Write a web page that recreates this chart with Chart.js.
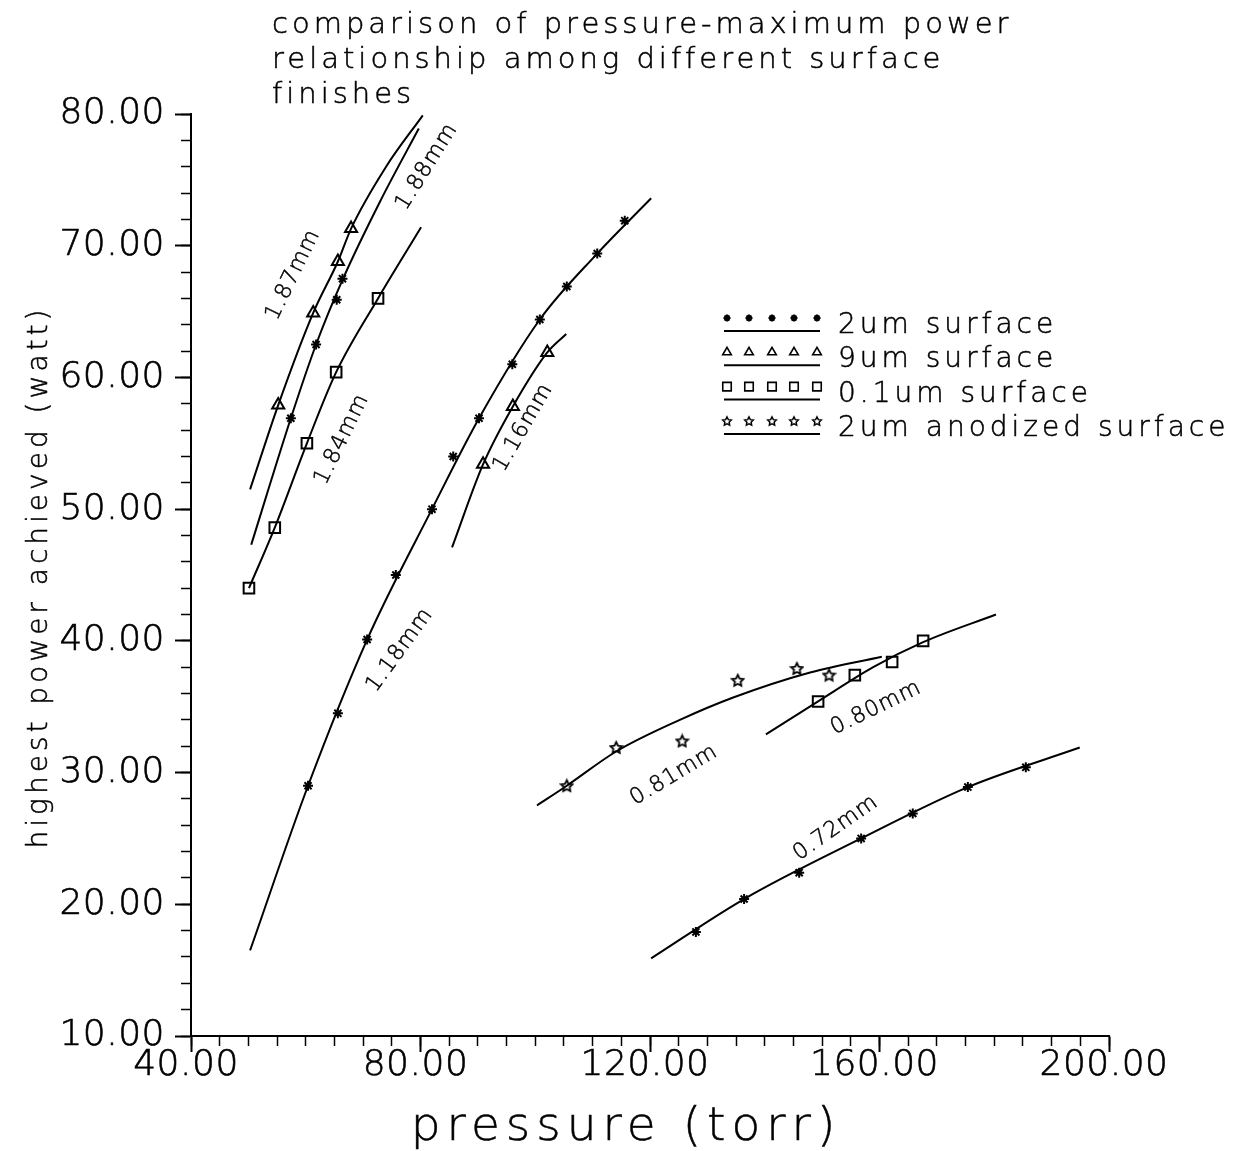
<!DOCTYPE html>
<html>
<head>
<meta charset="utf-8">
<script src="https://cdn.jsdelivr.net/npm/chart.js@4.4.1/dist/chart.umd.min.js"></script>
<style>
  html, body { margin: 0; padding: 0; background: #fff; }
  #wrap { width: 1251px; height: 1151px; position: relative; }
</style>
</head>
<body>
<div id="wrap"><canvas id="chart"></canvas></div>
<script>
// fitted curves, pressure (torr) vs highest power (watt)
const curve187P = [50.3, 55.2, 61.3, 65.6, 67.9, 74.0, 80.4];
const curve187W = [51.5, 57.9, 64.9, 68.8, 71.3, 76.0, 79.9];
const curve188P = [50.5, 57.4, 61.8, 66.5, 73.0, 79.7];
const curve188W = [47.3, 56.9, 62.5, 67.5, 73.4, 78.9];
const curve184P = [50.1, 54.6, 60.2, 65.3, 72.6, 80.1];
const curve184W = [44.0, 48.6, 55.0, 60.4, 66.0, 71.4];
const curve118P = [50.3, 60.4, 70.7, 82.0, 90.2, 100.8, 110.8, 120.2];
const curve118W = [16.5, 29.0, 40.1, 50.0, 56.9, 64.4, 69.4, 73.6];
const curve116P = [85.5, 90.9, 96.1, 102.1, 105.4];
const curve116W = [47.1, 53.4, 57.8, 61.9, 63.3];
const curve081P = [100.3, 105.5, 114.1, 125.2, 134.5, 147.9, 160.4];
const curve081W = [27.5, 29.0, 31.6, 34.0, 35.7, 37.6, 38.8];
const curve080P = [140.2, 149.3, 158.9, 167.6, 180.3];
const curve080W = [32.9, 35.4, 38.0, 39.9, 42.0];
const curve072P = [120.2, 136.4, 156.8, 175.4, 194.9];
const curve072W = [15.9, 20.4, 25.0, 28.9, 31.9];

// measured points
const stars188P = [57.4, 61.8, 65.4, 66.4];
const stars188W = [56.9, 62.5, 65.9, 67.5];
const stars118P = [60.4, 65.6, 70.7, 75.7, 82.0, 85.7, 90.2, 96.0, 100.8, 105.5, 110.8, 115.6];
const stars118W = [29.0, 34.5, 40.1, 45.0, 50.0, 54.0, 56.9, 61.0, 64.4, 66.9, 69.4, 71.9];
const stars072P = [128.0, 136.4, 146.0, 156.8, 165.8, 175.4, 185.5];
const stars072W = [17.9, 20.4, 22.4, 25.0, 26.9, 28.9, 30.4];
const tri187P = [55.2, 61.3, 65.6, 67.9];
const tri187W = [57.9, 64.9, 68.8, 71.3];
const tri116P = [90.9, 96.1, 102.1];
const tri116W = [53.4, 57.8, 61.9];
const sq184P = [50.1, 54.6, 60.2, 65.3, 72.6];
const sq184W = [44.0, 48.6, 55.0, 60.4, 66.0];
const sq080P = [149.3, 155.7, 162.2, 167.6];
const sq080W = [35.4, 37.4, 38.4, 40.0];
const anod081P = [105.5, 114.1, 125.6, 135.3, 145.6, 151.2];
const anod081W = [29.0, 31.9, 32.4, 37.0, 37.9, 37.4];

const seriesNames = ['2um surface', '9um surface', '0.1um surface', '2um anodized surface'];
const xTicks = [40, 80, 120, 160, 200];
const yTicks = [10, 20, 30, 40, 50, 60, 70, 80];

// gap labels written next to the curves
const curveLabels = [
  { text: '1.87mm', p: 57.8, w: 67.8, angle: -64 },
  { text: '1.88mm', p: 81.1, w: 76.0, angle: -58 },
  { text: '1.84mm', p: 66.3, w: 55.3, angle: -64 },
  { text: '1.18mm', p: 76.4, w: 39.3, angle: -54 },
  { text: '1.16mm', p: 97.9, w: 56.2, angle: -60 },
  { text: '0.81mm', p: 124.2, w: 29.8, angle: -31 },
  { text: '0.80mm', p: 159.4, w: 34.9, angle: -26 },
  { text: '0.72mm', p: 152.4, w: 25.8, angle: -35 }
];

const titleLines = ['comparison of pressure-maximum power', 'relationship among different surface', 'finishes'];
const xTitle = 'pressure (torr)';
const yTitle = 'highest power achieved (watt)';

const FONT = "'DejaVu Sans', 'Liberation Sans', sans-serif";

function pts(P, W) {
  return P.map((p, i) => ({ x: p, y: W[i] }));
}

function starImage(size, lw) {
  const c = document.createElement('canvas');
  c.width = c.height = size;
  const g = c.getContext('2d');
  const R = size / 2 - 1.5, r = R * 0.5, cx = size / 2, cy = size / 2 + 0.5;
  g.beginPath();
  for (let i = 0; i < 10; i++) {
    const a = -Math.PI / 2 + i * Math.PI / 5;
    const rad = i % 2 ? r : R;
    g.lineTo(cx + rad * Math.cos(a), cy + rad * Math.sin(a));
  }
  g.closePath();
  g.strokeStyle = '#000';
  g.lineWidth = lw;
  g.stroke();
  return c;
}
const anodStar = starImage(15, 1.8);
const anodStarSmall = starImage(12, 1.5);

function curve(P, W) {
  return {
    type: 'line', data: pts(P, W), borderColor: '#000', borderWidth: 2,
    pointRadius: 0, cubicInterpolationMode: 'monotone', fill: false
  };
}

function markers(label, data, style, radius, legendRadius) {
  return {
    type: 'scatter', label: label, data: data, showLine: false,
    pointStyle: style, pointRadius: radius, borderColor: '#000',
    backgroundColor: 'rgba(0,0,0,0)', pointBorderWidth: 2, legendRadius: legendRadius
  };
}

const datasets = [
  curve(curve187P, curve187W),
  curve(curve188P, curve188W),
  curve(curve184P, curve184W),
  curve(curve118P, curve118W),
  curve(curve116P, curve116W),
  curve(curve081P, curve081W),
  curve(curve080P, curve080W),
  curve(curve072P, curve072W),
  markers(seriesNames[0], pts(stars188P, stars188W).concat(pts(stars118P, stars118W), pts(stars072P, stars072W)), 'star', 5, 3.5),
  markers(seriesNames[1], pts(tri187P, tri187W).concat(pts(tri116P, tri116W)), 'triangle', 7, 5),
  markers(seriesNames[2], pts(sq184P, sq184W).concat(pts(sq080P, sq080W)), 'rect', 7.5, 6),
  markers(seriesNames[3], pts(anod081P, anod081W), anodStar, 7, 6)
];

function drawText(ctx, text, x, y, size, spacing, angle, align, baseline) {
  ctx.save();
  ctx.translate(x, y);
  ctx.rotate(angle * Math.PI / 180);
  ctx.font = '200 ' + size + 'px ' + FONT;
  ctx.letterSpacing = spacing + 'px';
  ctx.textAlign = align;
  ctx.textBaseline = baseline;
  ctx.fillStyle = '#000';
  ctx.strokeStyle = '#000';
  ctx.lineWidth = 0.5;
  ctx.fillText(text, 0, 0);
  ctx.strokeText(text, 0, 0);
  ctx.restore();
}

const textPlugin = {
  id: 'plotText',
  beforeDraw(chart) {
    chart.ctx.letterSpacing = '0.5px';
  },
  afterDraw(chart) {
    const ctx = chart.ctx;
    const xs = chart.scales.x, ys = chart.scales.y;
    ctx.letterSpacing = '0px';

    titleLines.forEach((t, i) => drawText(ctx, t, 272, 33 + i * 35, 29, 4, 0, 'left', 'alphabetic'));
    drawText(ctx, xTitle, 626, 1140, 47, 6, 0, 'center', 'alphabetic');
    drawText(ctx, yTitle, 47, 577, 28, 4, -90, 'center', 'alphabetic');

    curveLabels.forEach(l => {
      drawText(ctx, l.text, xs.getPixelForValue(l.p), ys.getPixelForValue(l.w), 22, 1, l.angle, 'center', 'middle');
    });

    // legend: five symbols over a line, then the name
    const markerX = [727, 749, 772, 794, 817];
    chart.data.datasets.filter(d => d.label).forEach((d, i) => {
      const rowY = 318 + i * 34.3;
      ctx.save();
      ctx.strokeStyle = '#000';
      ctx.fillStyle = 'rgba(0,0,0,0)';
      ctx.lineWidth = d.pointStyle === 'star' ? 2 : 1.6;
      const style = d.pointStyle === anodStar ? anodStarSmall : d.pointStyle;
      markerX.forEach(mx => {
        Chart.helpers.drawPoint(ctx, { pointStyle: style, radius: d.legendRadius, rotation: 0, borderWidth: ctx.lineWidth }, mx, rowY);
      });
      ctx.beginPath();
      ctx.lineWidth = 2;
      ctx.moveTo(724, rowY + 13);
      ctx.lineTo(820, rowY + 13);
      ctx.stroke();
      ctx.restore();
      drawText(ctx, d.label, 838, rowY + 15, 28, 4, 0, 'left', 'alphabetic');
    });
  }
};

const tickFont = { family: FONT, size: 36, weight: 200 };

new Chart(document.getElementById('chart'), {
  type: 'scatter',
  data: { datasets: datasets },
  options: {
    responsive: true,
    maintainAspectRatio: false,
    animation: false,
    layout: { padding: { top: 114, right: 142, bottom: 55, left: 0 } },
    plugins: { legend: { display: false }, tooltip: { enabled: false }, title: { display: false } },
    scales: {
      x: {
        type: 'linear', position: 'bottom', min: 40, max: 200, weight: 10,
        afterBuildTicks: s => { s.ticks = xTicks.map(v => ({ value: v })); },
        ticks: {
          callback: v => v.toFixed(2), font: tickFont, color: '#000', textStrokeColor: '#000', textStrokeWidth: 0.6,
          padding: -8, labelOffset: -5, maxRotation: 0, autoSkip: false
        },
        grid: { drawOnChartArea: false, tickLength: 16, tickWidth: 2, tickColor: '#000' },
        border: { color: '#000', width: 2 },
        afterFit: s => { s.height = 60; }
      },
      xMinor: {
        type: 'linear', position: 'bottom', min: 40, max: 200, weight: 0,
        ticks: { stepSize: 5, display: false },
        grid: { drawOnChartArea: false, tickLength: 10, tickWidth: 1.5, tickColor: '#000' },
        border: { display: false },
        afterFit: s => { s.height = 0; }
      },
      y: {
        type: 'linear', position: 'left', min: 10, max: 80, weight: 10,
        afterBuildTicks: s => { s.ticks = yTicks.map(v => ({ value: v })); },
        ticks: {
          callback: v => v.toFixed(2), font: tickFont, color: '#000', textStrokeColor: '#000', textStrokeWidth: 0.6,
          padding: 10
        },
        grid: { drawOnChartArea: false, tickLength: 16, tickWidth: 2, tickColor: '#000' },
        border: { color: '#000', width: 2 },
        afterFit: s => { s.width = 191; }
      },
      yMinor: {
        type: 'linear', position: 'left', min: 10, max: 80, weight: 0,
        ticks: { stepSize: 2, display: false },
        grid: { drawOnChartArea: false, tickLength: 10, tickWidth: 1.5, tickColor: '#000' },
        border: { display: false },
        afterFit: s => { s.width = 0; }
      }
    }
  },
  plugins: [textPlugin]
});
</script>
</body>
</html>
